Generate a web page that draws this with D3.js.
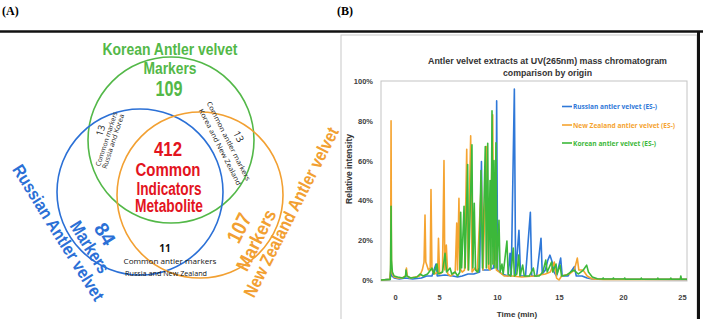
<!DOCTYPE html>
<html>
<head>
<meta charset="utf-8">
<script src="https://d3js.org/d3.v7.min.js"></script>
<style>
body { margin: 0; background: #fff; }
svg { display: block; }
</style>
</head>
<body>
<svg id="fig" width="703" height="319"></svg>
<script>
// ---------- (A) venn numbers
var vennNames = ["Korean Antler velvet", "Russian Antler velvet", "New Zealand Antler velvet"];
var vennOnly = [109, 84, 107];          // Korea, Russia, New Zealand
var vennPairs = [13, 13, 11];           // Russia&Korea, Korea&NZ, Russia&NZ
var vennAll = 412;

// ---------- (B) chromatogram, [time (min), relative intensity %]
var chartTitle = ["Antler velvet extracts at UV(265nm) mass chromatogram", "comparison by origin"];
var seriesNames = ["Russian antler velvet (ES-)", "New Zealand antler velvet (ES-)", "Korean antler velvet (ES-)"];
var xTicks = [0, 5, 10, 15, 20, 25];
var yTicks = [0, 20, 40, 60, 80, 100];

var russian = [[-1.6,0],[-0.55,0.3],[-0.5,3],[-0.45,6],[-0.35,2],[-0.1,1],[0.5,0.5],[1.2,1],[2.0,0.5],[3.0,1],
  [3.6,2],[4.2,2],[4.66,8],[4.8,2],[5.5,2.5],[6.2,2],[6.6,1.5],[7.0,2],[7.5,3],[8.0,3],[8.5,4],[8.66,59.5],
  [8.78,5],[9.3,5],[9.7,6],[9.85,42],[9.91,10],[9.97,90],[10.05,5],[10.4,3],[10.9,2],[11.05,13.4],[11.15,2],
  [11.4,96],[11.5,3],[11.77,25],[11.9,2],[12.3,2],[12.69,34],[12.8,2],[13.2,2],[13.55,21],[13.65,3],[13.9,5],
  [14.1,10],[14.27,12.5],[14.45,9],[14.6,4],[14.8,2],[15.13,11],[15.25,2],[15.7,2],[16.2,6.7],[16.35,2],
  [16.8,2],[17.2,1],[17.6,0.5],[25.45,0.3]];

var newZealand = [[-1.6,0],[-0.6,0.3],[-0.5,5],[-0.45,80],[-0.4,6],[-0.3,3],[-0.1,1.5],[0.3,1],[0.8,1],[1.2,2],
  [1.3,6],[1.4,2],[1.7,1],[2.3,1.5],[2.8,2],[3.1,5],[3.3,9],[3.41,32.7],[3.5,9],[3.8,5],[4.0,6],[4.09,45.5],
  [4.2,5],[4.5,3],[4.85,4],[4.94,21],[5.05,3],[5.3,4],[5.43,60],[5.5,5],[5.63,17.6],[5.75,3],[6.0,2],[6.2,3],
  [6.4,4],[6.53,28.6],[6.6,5],[6.72,41],[6.8,6],[7.0,4],[7.2,5],[7.39,65.7],[7.5,5],[7.73,72.4],[7.85,4],
  [8.1,6],[8.3,4],[8.65,50],[8.8,5],[9.11,67],[9.25,6],[9.4,5],[9.63,83],[9.72,8],[9.83,41],[9.95,5],
  [10.2,4],[10.6,2],[11.2,2],[12,1.5],[13,2],[13.9,3],[14.3,4],[14.62,9],[14.8,1],[15.0,0],[15.2,2],
  [15.8,3],[16.2,5],[16.43,11],[16.55,5],[16.87,5],[17.2,2],[17.6,0.5],[18.5,0.3],[25.45,0.3]];

var korean = [[-1.6,0],[-0.55,0.3],[-0.5,8],[-0.45,37],[-0.4,10],[-0.3,4],[-0.1,2],[0.3,1.5],[0.9,1],[1.2,2],
  [1.25,5],[1.35,2],[1.8,1],[2.5,1.5],[2.84,3],[3.2,2],[3.7,3],[4.2,6],[4.4,3],[4.77,8],[4.9,3],[5.3,4],
  [5.52,13.4],[5.65,4],[5.95,6],[6.1,3],[6.38,4],[6.5,3],[6.6,2],[6.8,4],[6.87,34],[6.95,6],[7.16,37],
  [7.25,6],[7.47,58],[7.55,5],[7.84,68],[7.92,6],[8.04,38.6],[8.15,5],[8.35,4],[8.45,6],[8.62,55],[8.75,6],
  [8.99,67],[9.08,6],[9.2,68.7],[9.28,8],[9.4,50],[9.48,6],[9.57,85],[9.65,8],[9.74,60],[9.82,6],[9.91,69],
  [10.0,6],[10.16,30],[10.25,4],[10.4,8],[10.5,3],[10.8,19.6],[10.9,3],[11.1,2],[11.31,16],[11.4,2],[11.6,3],
  [11.75,12.5],[11.85,2],[12.07,7.5],[12.2,2],[12.6,2],[12.93,6],[13.05,2],[13.4,2],[13.7,4],[13.93,10],
  [14.05,4],[14.4,9],[14.5,4],[14.76,8],[14.85,3],[15.08,7.5],[15.2,2],[15.6,2.5],[15.9,4],[16.17,5],[16.5,3],
  [16.9,5],[17.16,7.5],[17.3,4],[17.6,1.5],[18.0,0.6],[18.4,0.5],[18.45,1],[18.5,0.5],[19.2,0.5],[19.25,1],
  [19.3,0.5],[20.1,0.5],[20.15,1],[20.2,0.4],[21.5,0.4],[21.55,1],[21.6,0.4],[22.9,0.4],[22.95,1],[23.0,0.4],
  [24.0,0.4],[24.05,1],[24.1,0.4],[24.85,0.4],[24.9,2],[24.95,0.4],[25.45,0.4]];

var svg = d3.select("#fig");

// frame
svg.append("rect").attr("x", 341).attr("y", 35).attr("width", 356).attr("height", 290)
  .attr("fill", "none").attr("stroke", "#c8c8c8").attr("stroke-width", 1);
svg.append("line").attr("x1", 0).attr("x2", 703).attr("y1", 31.5).attr("y2", 31.5)
  .attr("stroke", "#111").attr("stroke-width", 2.5);
svg.append("line").attr("x1", 698.5).attr("x2", 698.5).attr("y1", 31).attr("y2", 319)
  .attr("stroke", "#111").attr("stroke-width", 3);

svg.append("text").attr("x", 2).attr("y", 15).text("(A)")
  .style("font", "bold 12px 'Liberation Serif', serif");
svg.append("text").attr("x", 337).attr("y", 15).text("(B)")
  .style("font", "bold 12px 'Liberation Serif', serif");

// ---------- venn
// (cx, cy) is the visual middle of the text; it is moved down to the baseline along the rotated axis
function label(cx, cy, rot, txt, size, len, color, weight, family) {
  var a = rot * Math.PI / 180, k = 0.35 * size;
  var bx = cx - Math.sin(a) * k, by = cy + Math.cos(a) * k;
  var t = svg.append("text")
    .attr("transform", "translate(" + bx.toFixed(1) + "," + by.toFixed(1) + ") rotate(" + rot + ")")
    .attr("text-anchor", "middle")
    .attr("fill", color)
    .style("font-family", family || "'Liberation Sans Narrow','Liberation Sans',sans-serif")
    .style("font-weight", weight || "bold")
    .style("font-size", size + "px")
    .text(txt);
  if (len) t.attr("textLength", len).attr("lengthAdjust", "spacingAndGlyphs");
  return t;
}

var green = "#53b848", blue = "#2b70d6", orange = "#f2a032", red = "#e3141e";

svg.append("circle").attr("cx", 171).attr("cy", 140).attr("r", 83)
  .attr("fill", "none").attr("stroke", green).attr("stroke-width", 1.6);
svg.append("circle").attr("cx", 140).attr("cy", 192).attr("r", 83)
  .attr("fill", "none").attr("stroke", blue).attr("stroke-width", 1.6);
svg.append("circle").attr("cx", 200).attr("cy", 195).attr("r", 83)
  .attr("fill", "none").attr("stroke", orange).attr("stroke-width", 1.6);

// Korea
label(170, 49, 0, vennNames[0], 17, 135, green);
label(170, 68, 0, "Markers", 17, 53, green);
label(169, 88.5, 0, String(vennOnly[0]), 22, 27, green);

// all three
label(168, 149, 0, String(vennAll), 21, 28, red);
label(168, 170, 0, "Common", 18, 65, red);
label(169, 188.5, 0, "Indicators", 18, 65, red);
label(169, 206, 0, "Metabolite", 18, 68, red);

// Russia block
label(105, 234, 58, String(vennOnly[1]), 20, 22, blue);
label(90, 247, 58, "Markers", 18, 58, blue);
label(58.5, 232.5, 58, vennNames[1], 17.5, 157, blue);

// New Zealand block
label(239, 228, -63, String(vennOnly[2]), 21, 30, orange);
label(256, 240, -63, "Markers", 19, 66, orange);
label(291, 212, -63, vennNames[2], 18, 188, orange);

// pair regions
var small = "'Open Sans','Liberation Sans',sans-serif";
label(100.5, 130.5, -72, String(vennPairs[0]), 9.5, 0, "#222", "normal", small);
label(106.5, 139, -72, "Common markers", 6.8, 57, "#222", "normal", small);
label(113, 141.5, -72, "Russia and Korea", 6.8, 57, "#222", "normal", small);

label(238.5, 136.5, 63, String(vennPairs[1]), 10, 0, "#222", "normal", small);
label(228.5, 141, 63, "Common antler markers", 6.8, 88, "#222", "normal", small);
label(220, 147, 63, "Korea and New Zealand", 6.8, 85, "#222", "normal", small);

label(165, 248.5, 0, String(vennPairs[2]), 10, 0, "#111", "bold", small);
label(170, 262, 0, "Common antler markers", 7, 93, "#111", "normal", small);
label(166, 273.5, 0, "Russia and New Zealand", 7, 82, "#111", "normal", small);

// ---------- chromatogram
var x = d3.scaleLinear()
  .domain([-1.6, 0, 5, 10, 15, 20, 25, 25.45])
  .range([381, 395, 439, 497, 559, 623, 682, 687]);
var y = d3.scaleLinear().domain([0, 100]).range([280, 81]);

svg.append("rect").attr("x", 381).attr("y", 81).attr("width", 306).attr("height", 200)
  .attr("fill", "none").attr("stroke", "#c4c4c4").attr("stroke-width", 1);

var axisFont = "bold 7.5px 'Liberation Sans', Arial, sans-serif";
var ya = svg.append("g").attr("transform", "translate(381,0)")
  .call(d3.axisLeft(y).tickValues(yTicks).tickFormat(function(d) { return d + "%"; })
    .tickSize(0).tickPadding(8));
ya.select(".domain").remove();
ya.selectAll("text").style("font", axisFont).attr("fill", "#404040");

var xa = svg.append("g").attr("transform", "translate(0,281)")
  .call(d3.axisBottom(x).tickValues(xTicks).tickSize(0).tickPadding(14));
xa.select(".domain").remove();
xa.selectAll("text").style("font", axisFont).attr("fill", "#404040");

var line = d3.line().x(function(d) { return x(d[0]); }).y(function(d) { return y(d[1]); });
var seriesData = [russian, newZealand, korean];
var seriesColors = ["#2f78d8", "#f5a431", "#3cb83a"];

svg.append("g").selectAll("path").data(seriesData).enter().append("path")
  .attr("d", line)
  .attr("fill", "none")
  .attr("stroke", function(d, i) { return seriesColors[i]; })
  .attr("stroke-width", 1.6)
  .attr("stroke-linejoin", "round");

// title, axis names
svg.append("text").attr("x", 547.5).attr("y", 63.5).attr("text-anchor", "middle")
  .attr("textLength", 239).attr("lengthAdjust", "spacingAndGlyphs")
  .style("font", "bold 9px 'Liberation Sans', Arial, sans-serif").attr("fill", "#333")
  .text(chartTitle[0]);
svg.append("text").attr("x", 547.5).attr("y", 75.5).attr("text-anchor", "middle")
  .attr("textLength", 89).attr("lengthAdjust", "spacingAndGlyphs")
  .style("font", "bold 9px 'Liberation Sans', Arial, sans-serif").attr("fill", "#333")
  .text(chartTitle[1]);
svg.append("text").attr("transform", "translate(352,169) rotate(-90)").attr("text-anchor", "middle")
  .style("font", "bold 8.5px 'Liberation Sans', Arial, sans-serif").attr("fill", "#333")
  .text("Relative intensity");
svg.append("text").attr("x", 517).attr("y", 317).attr("text-anchor", "middle")
  .style("font", "bold 8px 'Liberation Sans', Arial, sans-serif").attr("fill", "#333")
  .text("Time (min)");

// legend
var legY = [106.5, 125, 143];
seriesNames.forEach(function(n, i) {
  svg.append("line").attr("x1", 562).attr("x2", 572).attr("y1", legY[i]).attr("y2", legY[i])
    .attr("stroke", seriesColors[i]).attr("stroke-width", 1.6);
  svg.append("text").attr("x", 573).attr("y", legY[i] + 2.5)
    .attr("textLength", [84, 102, 83][i]).attr("lengthAdjust", "spacingAndGlyphs")
    .style("font", "bold 7px 'Open Sans', 'Liberation Sans', sans-serif")
    .attr("fill", seriesColors[i]).text(n);
});
</script>
</body>
</html>
